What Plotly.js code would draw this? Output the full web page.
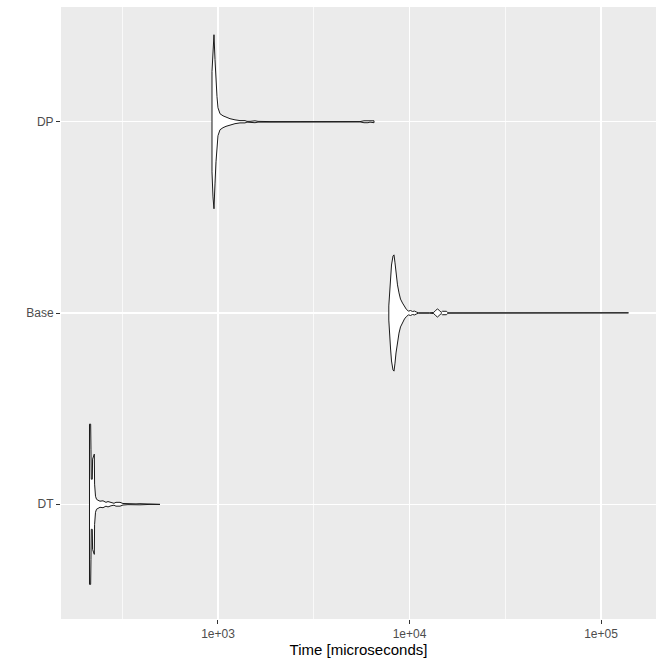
<!DOCTYPE html>
<html>
<head>
<meta charset="utf-8">
<script src="https://cdn.plot.ly/plotly-3.0.1.min.js"></script>
<style>html,body{margin:0;padding:0;background:#fff}#chart{width:664px;height:664px}</style>
</head>
<body>
<div id="chart"></div>
<script>
// Categories (bottom to top) and their positions on the discrete axis
const categories = ["DT", "Base", "DP"];

// Violin outlines: time (microseconds) and half-width of the density (category units)
const dtTime  = [213.3, 216.3, 217.1, 217.9, 220.6, 221.4, 226.0, 226.8, 229.3, 232.1, 236.3, 242.0, 250.9, 260.0, 266.5, 276.3, 286.3, 293.3, 307.8, 319.1, 338.8, 355.5, 373.1, 391.4, 441.5, 498];
const dtWidth = [0.419, 0.419, 0.288, 0.131, 0.131, 0.236, 0.262, 0.105, 0.042, 0.026, 0.021, 0.016, 0.018, 0.010, 0.014, 0.008, 0.005, 0.010, 0.010, 0.004, 0.002, 0.004, 0.002, 0.003, 0.0008, 0.0008];

const baseTime  = [7797, 7863, 7958, 8054, 8201, 8300, 8400, 8502, 8656, 8814, 8974, 9193, 9416, 9646, 9881, 10121, 10367, 10620, 10878, 11143, 12718, 13393, 13670, 14002, 14343, 14640, 14870, 15603, 15887, 139190];
const baseWidth = [0.037, 0.105, 0.183, 0.251, 0.298, 0.304, 0.262, 0.209, 0.147, 0.105, 0.073, 0.052, 0.031, 0.018, 0.010, 0.013, 0.008, 0.010, 0.005, 0.0008, 0.0008, 0.003, 0.013, 0.021, 0.013, 0.003, 0.009, 0.009, 0.0008, 0.0008];

const dpTime  = [930.4, 941.6, 952.9, 964.5, 976.2, 988.0, 1000, 1024.3, 1062.0, 1101.0, 1155.2, 1226.8, 1302.8, 1383.6, 1417.3, 1469.3, 1560.4, 1617.7, 1697.4, 1868.5, 2681.3, 5514, 5786, 6071, 6219, 6526];
const dpWidth = [0.262, 0.393, 0.455, 0.325, 0.209, 0.131, 0.073, 0.042, 0.031, 0.024, 0.016, 0.010, 0.006, 0.006, 0.002, 0.002, 0.005, 0.002, 0.0008, 0.0008, 0.0008, 0.0008, 0.005, 0.005, 0.002, 0.005];

// Axis ticks
const xTickVals = [1000, 10000, 100000];
const xTickText = ["1e+03", "1e+04", "1e+05"];
const xMinorVals = [316.23, 3162.3, 31623];

function violin(times, widths, pos) {
  const xs = [], ys = [];
  for (let i = 0; i < times.length; i++) { xs.push(times[i]); ys.push(pos + widths[i]); }
  for (let i = times.length - 1; i >= 0; i--) { xs.push(times[i]); ys.push(pos - widths[i]); }
  xs.push(times[0]); ys.push(pos + widths[0]);
  return {
    type: "scatter", mode: "lines", x: xs, y: ys,
    fill: "toself", fillcolor: "#FFFFFF",
    line: {color: "#1a1a1a", width: 1},
    hoverinfo: "skip", showlegend: false
  };
}

const series = [[dtTime, dtWidth], [baseTime, baseWidth], [dpTime, dpWidth]];
const data = series.map((s, i) => violin(s[0], s[1], i + 1));

const layout = {
  width: 664, height: 664,
  paper_bgcolor: "#FFFFFF", plot_bgcolor: "#EBEBEB",
  margin: {l: 61, r: 8, t: 7, b: 45},
  showlegend: false,
  font: {family: "Liberation Sans, Arial, sans-serif"},
  xaxis: {
    type: "log", range: [2.1802, 5.2872],
    tickmode: "array", tickvals: xTickVals, ticktext: xTickText,
    showgrid: true, gridcolor: "#FFFFFF", gridwidth: 1.4,
    zeroline: false, showline: false,
    ticks: "outside", ticklen: 4, tickwidth: 1, tickcolor: "#333333",
    tickfont: {size: 12, color: "#4D4D4D"},
    minor: {tickmode: "array", tickvals: xMinorVals, showgrid: true, gridcolor: "#FFFFFF", gridwidth: 0.7, ticks: ""},
    title: {text: "Time [microseconds]", font: {size: 15, color: "#000000"}, standoff: 3}
  },
  yaxis: {
    range: [0.4, 3.6],
    tickmode: "array", tickvals: [1, 2, 3], ticktext: categories,
    showgrid: true, gridcolor: "#FFFFFF", gridwidth: 1.4,
    zeroline: false, showline: false,
    ticks: "outside", ticklen: 4, tickwidth: 1, tickcolor: "#333333",
    tickfont: {size: 12, color: "#4D4D4D"}
  }
};

Plotly.newPlot("chart", data, layout, {displayModeBar: false, staticPlot: true});
</script>
</body>
</html>
